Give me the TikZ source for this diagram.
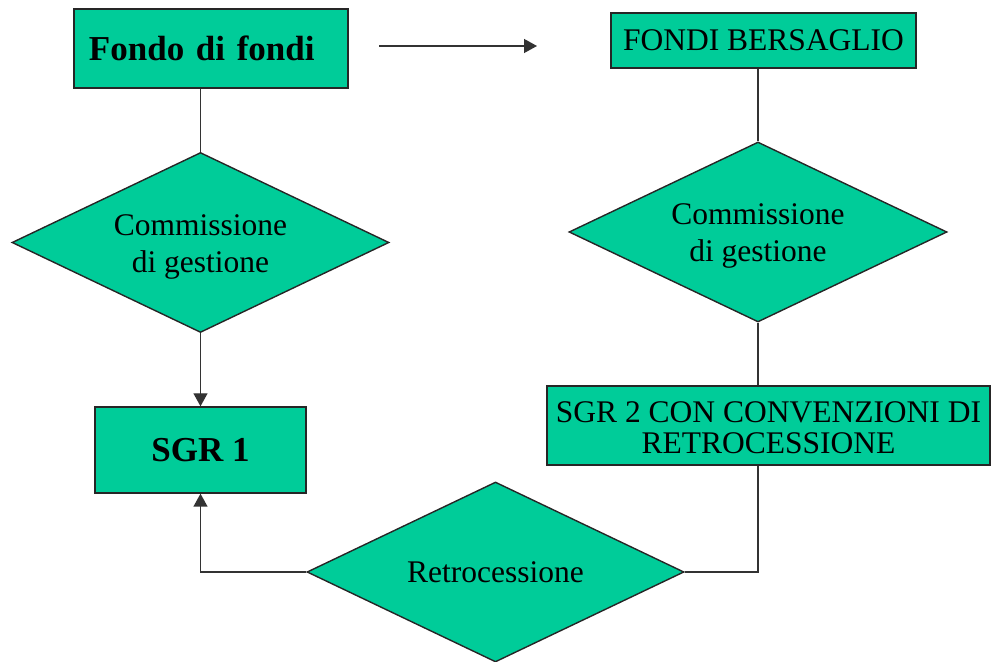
\documentclass[tikz,border=0pt]{standalone}
\usepackage{fontspec}
\setmainfont{Liberation Serif}
\usetikzlibrary{shapes.geometric,arrows.meta}
\definecolor{boxgreen}{RGB}{0,204,153}
\newcommand{\nodetext}[2]{\raisebox{0pt}[\dimexpr\height+#1\relax]{\begin{tabular}{@{}c@{}}#2\end{tabular}}}
\tikzset{
  greenbox/.style={rectangle, draw=black!85, fill=boxgreen, line width=0.7pt, inner sep=0pt},
  greendiamond/.style={diamond, aspect=2.1, draw=black!85, fill=boxgreen, line width=0.7pt, inner sep=0pt},
  link/.style={draw=black!80, line width=0.7pt},
  tip/.style={-{Triangle[length=6.5pt,width=7pt]}},
  regular/.style={font=\fontsize{15.75}{18.5}\selectfont},
  heavy/.style={font=\fontsize{17.5}{20}\selectfont\bfseries}
}

\begin{document}
\begin{tikzpicture}[x=0.5pt,y=-0.5pt]
  \useasboundingbox (0,0) rectangle (992,662);

  \node[greenbox,heavy,minimum width=137pt,minimum height=39.5pt,
        text width=122pt,align=left,inner xsep=7.5pt] (fondo) at (211,48.5) {Fondo di fondi};
  \node[greenbox,regular,minimum width=152.5pt,minimum height=27.5pt] (bersaglio) at (763.5,40.5) {FONDI BERSAGLIO};
  \node[greendiamond,regular,minimum width=188.5pt,minimum height=90pt] (comm1) at (200.5,242.5) {\nodetext{4pt}{Commissione\\di gestione}};
  \node[greendiamond,regular,minimum width=189pt,minimum height=90pt] (comm2) at (758,232) {\nodetext{4pt}{Commissione\\di gestione}};
  \node[greenbox,heavy,minimum width=105.5pt,minimum height=43pt] (sgr1) at (200.5,450) {SGR 1};
  \node[greenbox,font=\fontsize{15.75}{15.5}\selectfont,
        minimum width=221.5pt,minimum height=39.5pt] (sgr2) at (768.5,425.5) {\nodetext{6pt}{SGR 2 CON CONVENZIONI DI\\RETROCESSIONE}};
  \node[greendiamond,regular,minimum width=188.5pt,minimum height=90pt] (retro) at (495.5,572) {Retrocessione};

  \coordinate (from) at (379,46);
  \coordinate (to) at (537,46);

  \draw[link,tip] (from) -- (to);
  \draw[link] (fondo.south -| comm1.north) -- (comm1.north);
  \draw[link,tip] (comm1.south) -- (sgr1.north);
  \draw[link] (bersaglio.south -| comm2.north) -- (comm2.north);
  \draw[link] (comm2.south) -- (comm2.south |- sgr2.north);
  \draw[link] (retro.east) -| (comm2.south |- sgr2.south);
  \draw[link,tip] (retro.west) -| (sgr1.south);
\end{tikzpicture}
\end{document}
